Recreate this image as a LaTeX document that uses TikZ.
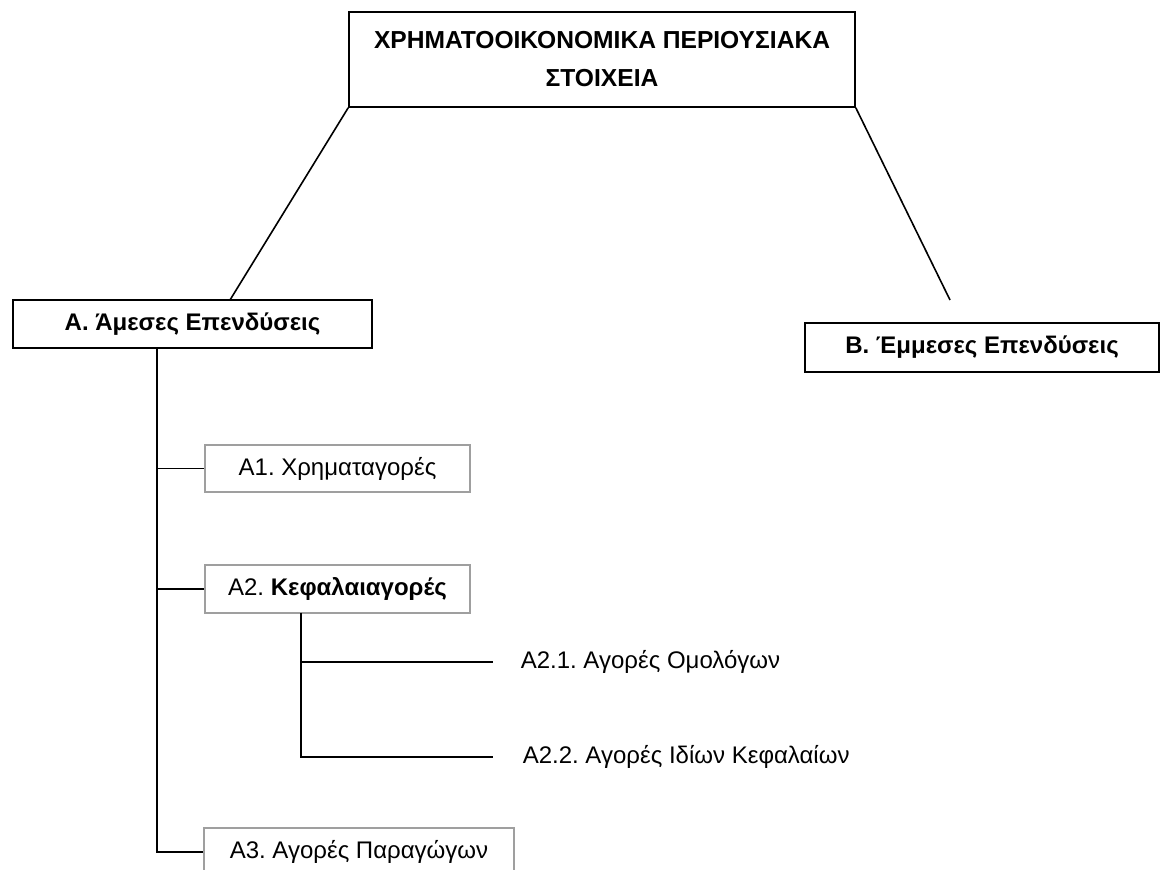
\documentclass[tikz,border=0pt]{standalone}
\usepackage{fontspec}
\setmainfont{Liberation Sans}
\newcommand\diagfont{\fontsize{12}{19}\selectfont\frenchspacing}

\begin{document}
\begin{tikzpicture}[x=0.5pt,y=-0.5pt,line width=0.8pt,font=\diagfont,
  mainbox/.style={draw,inner sep=0pt,font=\diagfont\bfseries},
  subbox/.style={draw=gray!75,inner sep=0pt,minimum width=132.5pt,minimum height=23.75pt},
  leaf/.style={anchor=west,inner sep=0pt}]
\useasboundingbox (0,0) rectangle (1161,870);
\clip (0,0) rectangle (1161,870);
\coordinate (L) at (230,300);
\coordinate (R) at (950,300);
\coordinate (T) at (157,348);
\coordinate (S) at (301,613);
\node[mainbox,align=center,minimum width=253pt,minimum height=47.5pt,
  font=\fontsize{12.3}{19}\selectfont\bfseries] (top) at (602,59.5)
  {ΧΡΗΜΑΤΟΟΙΚΟΝΟΜΙΚΑ ΠΕΡΙΟΥΣΙΑΚΑ\\ΣΤΟΙΧΕΙΑ};
\node[mainbox,minimum width=179.5pt,minimum height=24pt] (A) at (192.5,324) {Α. Άμεσες Επενδύσεις};
\node[mainbox,minimum width=177pt,minimum height=24.5pt] (B) at (982,347.5) {Β. Έμμεσες Επενδύσεις};
\node[subbox] (A1) at (337.5,468.5) {Α1. Χρηματαγορές};
\node[subbox] (A2) at (337.5,589) {Α2. \textbf{Κεφαλαιαγορές}};
\node[subbox,minimum width=155pt,minimum height=24pt] (A3) at (359,852) {Α3. Αγορές Παραγώγων};
\node[leaf] (A21) at (520,662) {Α2.1. Αγορές Ομολόγων};
\node[leaf] (A22) at (522,757) {Α2.2. Αγορές Ιδίων Κεφαλαίων};
% connectors
\draw (top.south west)--(L);
\draw (top.south east)--(R);
\draw (T)|-(A3.west);
\draw (T|-A1.west)--(A1.west);
\draw (T|-A2.west)--(A2.west);
\draw[shorten >=13.5pt] (S)|-(A21.west);
\draw[shorten >=14.5pt] (S)|-(A22.west);
\end{tikzpicture}
\end{document}
